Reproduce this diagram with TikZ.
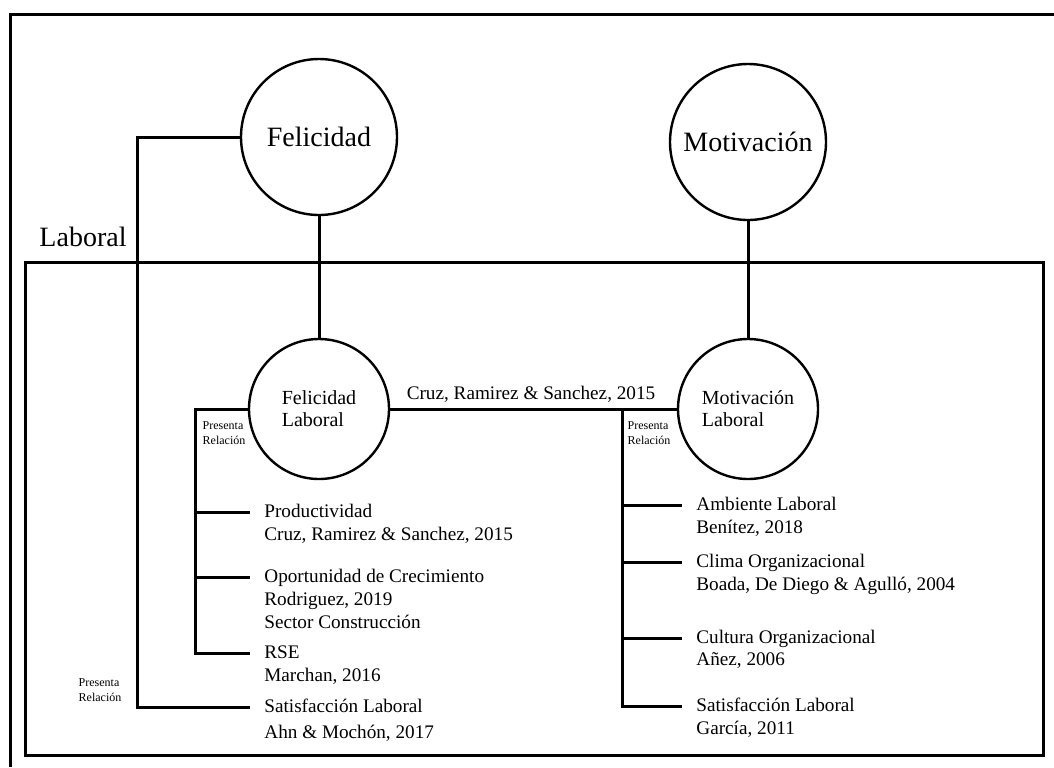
\documentclass[tikz,border=0pt]{standalone}
\usepackage{fontspec}
\setmainfont{Liberation Serif}
\usepackage{tikz}
\tikzset{
  bignode/.style={circle,draw,line width=1.2pt,minimum size=78pt,
    inner sep=0pt,font=\fontsize{14}{16}\selectfont},
  subnode/.style={circle,draw,line width=1.2pt,minimum size=70pt,
    inner sep=0pt,align=left,font=\fontsize{10}{11}\selectfont},
  itemnode/.style={anchor=west,inner xsep=7pt,inner ysep=1.25pt,
    text height=7pt,text depth=2pt,font=\fontsize{9.6}{11.5}\selectfont},
  refnode/.style={anchor=north west,inner xsep=7pt,inner ysep=1.25pt,
    align=left,font=\fontsize{9.6}{11.5}\selectfont},
  notenode/.style={align=left,inner sep=0pt,font=\fontsize{6}{7.5}\selectfont},
  linkedge/.style={line width=1.5pt},
  frameedge/.style={line width=1.5pt}
}
\begin{document}
\begin{tikzpicture}[x=0.5pt,y=-0.5pt]
  \useasboundingbox (0,0) rectangle (1054,767);

  % frames
  \draw[frameedge] (1054,14) -- (10,14) -- (10,767);
  \draw[frameedge] (25,262) rectangle (1043,755);
  \node[font=\fontsize{14}{16}\selectfont] (lab) at (83,237) {Laboral};

  \node[bignode] (feli) at (319,137) {Felicidad};
  \node[bignode] (moti) at (748,142) {Motivación};
  \node[subnode] (felilab) at (319,409) {Felicidad\\Laboral};
  \node[subnode] (motilab) at (748,409) {Motivación\\Laboral};
  \node[font=\fontsize{9.6}{11.5}\selectfont] (cite) at (531,394)
    {Cruz, Ramirez \& Sanchez, 2015};

  % felicidad laboral
  \node[itemnode] (prod) at (250,512) {Productividad};
  \node[refnode] (prodref) at (prod.south west) {Cruz, Ramirez \& Sanchez, 2015};
  \node[itemnode] (opor) at (250,577) {Oportunidad de Crecimiento};
  \node[refnode] (oporref) at (opor.south west) {Rodriguez, 2019\\Sector Construcción};
  \node[itemnode] (rse) at (250,653) {RSE};
  \node[refnode] (rseref) at (rse.south west) {Marchan, 2016};
  \node[itemnode] (satf) at (250,707) {Satisfacción Laboral};
  \node[refnode] (satfref) at ([yshift=-1.5pt]satf.south west) {Ahn \& Mochón, 2017};

  % motivacion laboral
  \node[itemnode] (amb) at (682,505) {Ambiente Laboral};
  \node[refnode] (ambref) at (amb.south west) {Benítez, 2018};
  \node[itemnode] (clim) at (682,562) {Clima Organizacional};
  \node[refnode] (climref) at (clim.south west) {Boada, De Diego \& Agulló, 2004};
  \node[itemnode] (cult) at (682,638) {Cultura Organizacional};
  \node[refnode] (cultref) at (cult.south west) {Añez, 2006};
  \node[itemnode] (satm) at (682,706) {Satisfacción Laboral};
  \node[refnode] (satmref) at (satm.south west) {García, 2011};

  \node[notenode] (note1) at (224,433) {Presenta\\Relación};
  \node[notenode] (note2) at (649,433) {Presenta\\Relación};
  \node[notenode] (note3) at (100,690) {Presenta\\Relación};

  \coordinate (outbar) at (137,137);
  \coordinate (lbar) at (195,409);
  \coordinate (rbar) at (622,409);

  \draw[linkedge] (feli.west) -- (outbar) |- (satf.west);
  \draw[linkedge] (feli.south) -- (felilab.north);
  \draw[linkedge] (moti.south) -- (motilab.north);
  \draw[linkedge] (felilab.east) -- (motilab.west);
  \draw[linkedge] (felilab.west) -- (lbar) |- (rse.west);
  \foreach \n in {prod,opor}
    \draw[linkedge] (lbar |- \n.west) -- (\n.west);
  \draw[linkedge] (rbar) |- (satm.west);
  \foreach \n in {amb,clim,cult}
    \draw[linkedge] (rbar |- \n.west) -- (\n.west);
\end{tikzpicture}
\end{document}
